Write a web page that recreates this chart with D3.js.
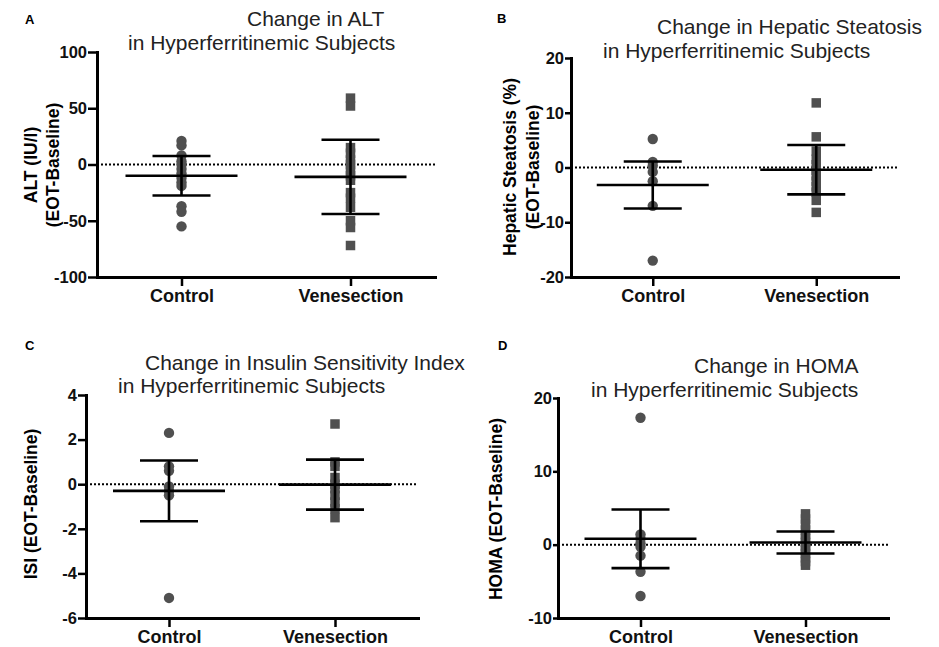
<!DOCTYPE html>
<html>
<head>
<meta charset="utf-8">
<script src="https://cdn.jsdelivr.net/npm/d3@7"></script>
<style>
  body { margin: 0; background: #fff; }
  svg { display: block; font-family: "Liberation Sans", Arial, Helvetica, sans-serif; }
  .tick text { font-size: 16.5px; font-weight: bold; fill: #111; }
  .x-axis .tick text { font-size: 18px; }
  .domain { stroke: #000; stroke-width: 3; stroke-linecap: square; }
  .tick line { stroke: #000; stroke-width: 2.5; }
  .title { font-size: 21px; fill: #222; }
  .ylabel { font-size: 17.5px; font-weight: bold; fill: #000; }
  .letter { font-size: 13px; font-weight: bold; fill: #000; }
</style>
</head>
<body>
<svg width="939" height="647"></svg>
<script>
const groups = ["Control", "Venesection"];

// change from baseline, per subject
const altControl = [21, 17, 8, 3, 0, -4, -8, -12, -16, -19, -37, -42, -55];
const altVenesection = [59, 52, 15, 10, 4, 0, -5, -10, -14, -25, -30, -38, -50, -56, -72];
const altMean = [-10, -11];
const altSd = [17.5, 33];

const steatControl = [5.2, 1, 0.3, -0.8, -2.5, -7, -17];
const steatVenesection = [11.8, 5.6, 3, 1.5, 0.5, -0.5, -1.5, -2.5, -3.5, -4.5, -6, -8.2];
const steatMean = [-3.2, -0.4];
const steatSd = [4.3, 4.5];

const isiControl = [2.3, 0.8, 0.6, -0.1, -0.3, -0.5, -5.1];
const isiVenesection = [2.7, 1.0, 0.8, 0.3, 0, -0.2, -0.5, -0.8, -1.1, -1.5];
const isiMean = [-0.3, -0.02];
const isiSd = [1.36, 1.12];

const homaControl = [17.3, 1.4, 0.8, 0.2, -0.3, -1.5, -3.7, -7.0];
const homaVenesection = [4.2, 3.5, 2.8, 2.0, 1.4, 0.8, 0.3, -0.2, -0.7, -1.2, -1.8, -2.3, -2.8];
const homaMean = [0.8, 0.3];
const homaSd = [4.0, 1.5];

const altTicks = [-100, -50, 0, 50, 100];
const steatTicks = [-20, -10, 0, 10, 20];
const isiTicks = [-6, -4, -2, 0, 2, 4];
const homaTicks = [-10, 0, 10, 20];

const svg = d3.select("svg");

const panels = [
  {
    letter: "A", lx: 25, ly: 24,
    left: 97, top: 52, right: 435, bottom: 277, tick: 9,
    domain: [-100, 100], ticks: altTicks,
    values: [altControl, altVenesection], mean: altMean, sd: altSd,
    title: [["Change in ALT", 247, 26], ["in Hyperferritinemic Subjects", 128, 50]],
    ylabel: [["ALT (IU/l)", 37], ["(EOT-Baseline)", 59]], ly0: 165
  },
  {
    letter: "B", lx: 497, ly: 23,
    left: 571, top: 58, right: 898, bottom: 277, tick: 6,
    domain: [-20, 20], ticks: steatTicks,
    values: [steatControl, steatVenesection], mean: steatMean, sd: steatSd,
    title: [["Change in Hepatic Steatosis", 657, 34], ["in Hyperferritinemic Subjects", 603, 58]],
    ylabel: [["Hepatic Steatosis (%)", 516], ["(EOT-Baseline)", 539]], ly0: 167
  },
  {
    letter: "C", lx: 25, ly: 350,
    left: 86, top: 395, right: 418, bottom: 618, tick: 8,
    domain: [-6, 4], ticks: isiTicks,
    values: [isiControl, isiVenesection], mean: isiMean, sd: isiSd,
    title: [["Change in Insulin Sensitivity Index", 145, 370], ["in Hyperferritinemic Subjects", 118, 393]],
    ylabel: [["ISI (EOT-Baseline)", 37]], ly0: 504
  },
  {
    letter: "D", lx: 498, ly: 350,
    left: 558, top: 398, right: 888, bottom: 618, tick: 5,
    domain: [-10, 20], ticks: homaTicks,
    values: [homaControl, homaVenesection], mean: homaMean, sd: homaSd,
    title: [["Change in HOMA", 694, 373], ["in Hyperferritinemic Subjects", 591, 397]],
    ylabel: [["HOMA (EOT-Baseline)", 502]], ly0: 509
  }
];

panels.forEach(drawPanel);

function drawPanel(p) {
  const w = p.right - p.left;
  const h = p.bottom - p.top;

  svg.append("text").attr("class", "letter")
    .attr("x", p.lx).attr("y", p.ly).text(p.letter);

  p.title.forEach(([t, x, y]) => {
    svg.append("text").attr("class", "title").attr("x", x).attr("y", y).text(t);
  });

  p.ylabel.forEach(([t, x]) => {
    svg.append("text").attr("class", "ylabel")
      .attr("transform", "translate(" + x + "," + p.ly0 + ") rotate(-90)")
      .attr("text-anchor", "middle")
      .text(t);
  });

  const g = svg.append("g").attr("transform", "translate(" + p.left + "," + p.top + ")");

  const x = d3.scalePoint().domain(groups).range([0, w]).padding(0.5);
  const y = d3.scaleLinear().domain(p.domain).range([h, 0]);

  // zero reference line
  g.append("line")
    .attr("x1", 0).attr("x2", w)
    .attr("y1", y(0)).attr("y2", y(0))
    .attr("stroke", "#000").attr("stroke-width", 2)
    .attr("stroke-dasharray", "2,2");

  // subjects: circles for control, squares for venesection
  g.selectAll(".pt-c")
    .data(p.values[0])
    .enter().append("circle")
      .attr("cx", x(groups[0]))
      .attr("cy", (d) => y(d))
      .attr("r", 5.2)
      .attr("fill", "#505050");

  const s = 9.5;
  g.selectAll(".pt-v")
    .data(p.values[1])
    .enter().append("rect")
      .attr("x", x(groups[1]) - s / 2)
      .attr("y", (d) => y(d) - s / 2)
      .attr("width", s).attr("height", s)
      .attr("fill", "#505050");

  // mean and SD bars
  groups.forEach((grp, i) => {
    const cx = x(grp);
    const m = p.mean[i], sd = p.sd[i];
    const bar = g.append("g").attr("stroke", "#000").attr("stroke-width", 2.6);
    bar.append("line").attr("x1", cx).attr("x2", cx).attr("y1", y(m + sd)).attr("y2", y(m - sd));
    bar.append("line").attr("x1", cx - 56).attr("x2", cx + 56).attr("y1", y(m)).attr("y2", y(m));
    bar.append("line").attr("x1", cx - 29).attr("x2", cx + 29).attr("y1", y(m + sd)).attr("y2", y(m + sd));
    bar.append("line").attr("x1", cx - 29).attr("x2", cx + 29).attr("y1", y(m - sd)).attr("y2", y(m - sd));
  });

  // y axis, plain hyphen for negatives
  g.append("g")
    .call(d3.axisLeft(y).tickValues(p.ticks).tickFormat((d) => String(d))
      .tickSize(p.tick).tickSizeOuter(0).tickPadding(1));

  // x axis
  g.append("g")
    .attr("class", "x-axis")
    .attr("transform", "translate(0," + h + ")")
    .call(d3.axisBottom(x).tickSize(9).tickSizeOuter(0).tickPadding(3));

  g.selectAll(".domain").attr("stroke", "#000").attr("stroke-width", 3);
}
</script>
</body>
</html>
